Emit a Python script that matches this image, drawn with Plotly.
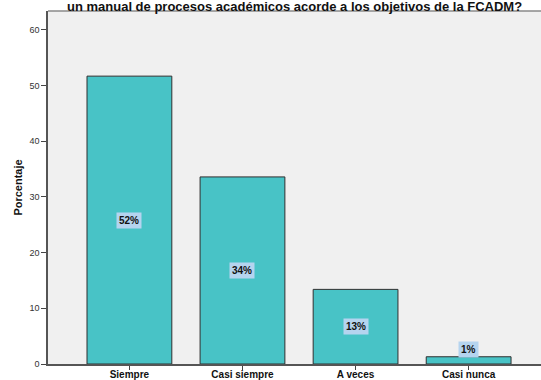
import plotly.graph_objects as go

# Response categories and their percentages
categories = ["Siempre", "Casi siempre", "A veces", "Casi nunca"]
percentages = [51.7, 33.6, 13.4, 1.3]

title_text = "un manual de procesos académicos acorde a los objetivos de la FCADM?"
y_title = "Porcentaje"
y_ticks = [0, 10, 20, 30, 40, 50, 60]

bar_color = "#48c3c6"
label_bg = "#b5d4ef"
font_family = "Arial, Liberation Sans, sans-serif"

fig = go.Figure()
fig.add_trace(go.Bar(
    x=list(range(len(categories))),
    y=percentages,
    width=0.75,
    marker=dict(color=bar_color, line=dict(color="#2f2f2f", width=1)),
    hoverinfo="skip",
))

# Percentage labels inside each bar (lifted above very short bars)
for i, v in enumerate(percentages):
    fig.add_annotation(
        x=i, y=max(v / 2, 2.6), xref="x", yref="y",
        text=f"<b>{v:.0f}%</b>", showarrow=False,
        bgcolor=label_bg, borderpad=2,
        font=dict(family=font_family, size=10, color="#111"),
    )

# Title line
fig.add_annotation(
    x=0.5, y=1, xref="paper", yref="paper", yanchor="bottom", yshift=-5,
    text=f"<b>{title_text}</b>", showarrow=False,
    font=dict(family=font_family, size=13, color="#111"),
)

# Top frame line of the plot area
fig.add_shape(type="line", xref="paper", yref="paper", x0=0, x1=1, y0=1, y1=1,
              line=dict(color="#8a8a8a", width=1.5))

fig.update_layout(
    width=541, height=380,
    margin=dict(l=48, r=0, t=11, b=16, autoexpand=False),
    paper_bgcolor="white",
    plot_bgcolor="#f0f0f0",
    showlegend=False,
    bargap=0.25,
    xaxis=dict(
        range=[-0.72, 3.64],
        tickmode="array", tickvals=list(range(len(categories))),
        ticktext=[f"<b>{c}</b>" for c in categories],
        ticks="outside", ticklen=4, tickcolor="#444", tickwidth=1,
        ticklabelstandoff=-4,
        automargin=False,
        showline=True, linecolor="#555", linewidth=1.5,
        showgrid=False, zeroline=False,
        tickfont=dict(family=font_family, size=10, color="#111"),
    ),
    yaxis=dict(
        range=[0, 63.4],
        tickmode="array", tickvals=y_ticks,
        ticks="outside", ticklen=5, tickcolor="#444", tickwidth=1,
        automargin=False,
        showline=True, linecolor="#555", linewidth=1.5,
        showgrid=False, zeroline=False,
        tickfont=dict(family=font_family, size=9, color="#333"),
        title=dict(text=f"<b>{y_title}</b>", standoff=5,
                   font=dict(family=font_family, size=11, color="#111")),
    ),
)

fig.write_html("out.html")
